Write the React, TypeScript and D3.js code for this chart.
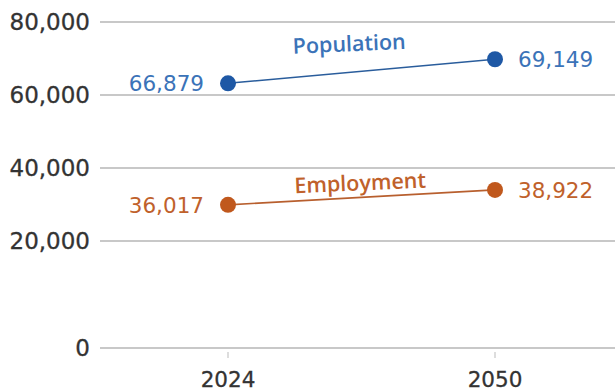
import React from "react";
import * as d3 from "d3";

// ---- data ----
const years = [2024, 2050];
const yTicks = [0, 20000, 40000, 60000, 80000];
// plotted values as they sit against the axis in the picture
const populationValues = [63200, 69800];
const employmentValues = [29900, 34000];
// printed labels
const populationLabels = ["66,879", "69,149"];
const employmentLabels = ["36,017", "38,922"];
const seriesNames = ["Population", "Employment"];

const W = 615;
const H = 392;

const series = [
  {
    name: seriesNames[0],
    values: populationValues,
    labels: populationLabels,
    dot: "#1e58a5",
    line: "#2a5d9c",
    text: "#3b73b8",
    nameDx: -12,
    nameDy: -20,
  },
  {
    name: seriesNames[1],
    values: employmentValues,
    labels: employmentLabels,
    dot: "#c0581d",
    line: "#b85f2e",
    text: "#c0612b",
    nameDx: -1,
    nameDy: -7,
  },
];

export default function App() {
  const x = d3.scaleLinear().domain([years[0], years[1]]).range([228, 495]);
  // axis has a compressed bottom segment (0–20,000)
  const y = d3.scaleLinear().domain([0, 20000, 80000]).range([348, 241, 22]);
  const fmt = d3.format(",");
  const line = d3
    .line<number>()
    .x((_, i) => x(years[i]))
    .y((d) => y(d));

  return (
    <svg
      width={W}
      height={H}
      style={{ position: "absolute", left: 0, top: 0, background: "#fff" }}
      fontFamily="'DejaVu Sans', Verdana, sans-serif"
    >
      {yTicks.map((t) => (
        <g key={t}>
          <line x1={100} x2={W} y1={y(t)} y2={y(t)} stroke="#c8c8c8" strokeWidth={2.2} />
          <text
            x={90}
            y={y(t)}
            dy="0.36em"
            textAnchor="end"
            fontSize={23}
            fill="#333"
            stroke="#333"
            strokeWidth={0.3}
          >
            {fmt(t)}
          </text>
        </g>
      ))}
      {years.map((yr) => (
        <g key={yr}>
          <line x1={x(yr)} x2={x(yr)} y1={352} y2={358} stroke="#bbb" strokeWidth={1} />
          <text
            x={x(yr)}
            y={387}
            textAnchor="middle"
            fontSize={21.5}
            fill="#333"
            stroke="#333"
            strokeWidth={0.3}
          >
            {yr}
          </text>
        </g>
      ))}
      {series.map((s) => {
        const x0 = x(years[0]);
        const x1 = x(years[1]);
        const y0 = y(s.values[0]);
        const y1 = y(s.values[1]);
        const mx = (x0 + x1) / 2 + s.nameDx;
        const my = (y0 + y1) / 2;
        const ang = -2.5;
        return (
          <g key={s.name}>
            <path d={line(s.values) || ""} fill="none" stroke={s.line} strokeWidth={1.6} />
            {s.values.map((v, i) => (
              <circle key={i} cx={x(years[i])} cy={y(v)} r={8} fill={s.dot} />
            ))}
            <text
              x={x0 - 24}
              y={y0}
              dy="0.36em"
              textAnchor="end"
              fontSize={21.5}
              fill={s.text}
            >
              {s.labels[0]}
            </text>
            <text x={x1 + 23} y={y1} dy="0.36em" textAnchor="start" fontSize={21.5} fill={s.text}>
              {s.labels[1]}
            </text>
            <text
              transform={`translate(${mx},${my + s.nameDy}) rotate(${ang})`}
              textAnchor="middle"
              fontSize={21.5}
              fontWeight={600}
              fontFamily="'Open Sans', sans-serif"
              fill={s.text}
            >
              {s.name}
            </text>
          </g>
        );
      })}
    </svg>
  );
}
